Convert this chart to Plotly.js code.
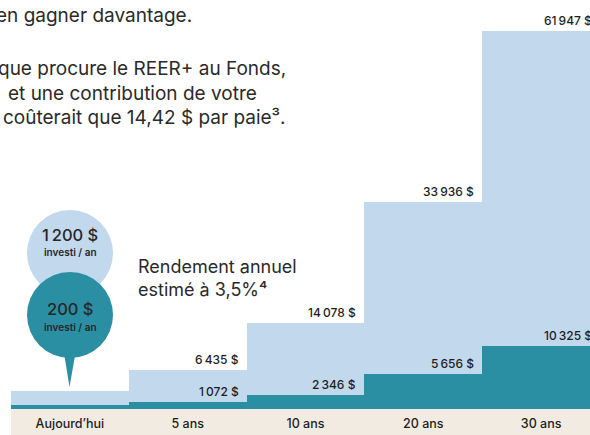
<!DOCTYPE html>
<html>
<head>
<meta charset="utf-8">
<script src="https://cdn.plot.ly/plotly-3.0.1.min.js"></script>
<style>
html,body{margin:0;padding:0;overflow:hidden;background:#fff;width:590px;height:435px;}
#chart{width:600px;height:435px;}
</style>
</head>
<body>
<div id="chart"></div>
<script>
// ---- data ----
const categories = ["Aujourd\u2019hui", "5 ans", "10 ans", "20 ans", "30 ans"];
const totalValues = [2950, 6435, 14078, 33936, 61947];
const contribValues = [680, 1072, 2346, 5656, 10325];
const totalLabels = ["", "6\u2009435 $", "14\u2009078 $", "33\u2009936 $", "61\u2009947 $"];
const contribLabels = ["", "1\u2009072 $", "2\u2009346 $", "5\u2009656 $", "10\u2009325 $"];

// ---- style ----
const LIGHT = "#c2d8ed";
const TEAL = "#2b8fa3";
const BEIGE = "#f2ebe2";
const INK = "#1e1e1e";
const FONT = "Inter, 'Noto Sans', sans-serif";

const W = 600, H = 435;
const M = {l: 11, r: 0, t: 0, b: 26};
const PW = W - M.l - M.r, PH = H - M.t - M.b;
const px = p => (p - M.l) / PW;       // page x pixel -> paper
const py = p => (H - M.b - p) / PH;   // page y pixel -> paper

const traces = [
  {type: "bar", x: categories, y: totalValues, width: 1,
   marker: {color: LIGHT, line: {width: 0}}, hoverinfo: "skip"},
  {type: "bar", x: categories, y: contribValues, width: 1,
   marker: {color: TEAL, line: {width: 0}}, hoverinfo: "skip"}
];

const annotations = [];
function barLabels(values, labels) {
  values.forEach((v, i) => {
    if (!labels[i]) return;
    annotations.push({
      x: i + 0.5, y: v, xref: "x", yref: "y",
      xanchor: "right", yanchor: "bottom", xshift: -6, yshift: 1,
      text: labels[i], showarrow: false,
      font: {family: FONT, size: 12, color: INK, weight: 500}
    });
  });
}
barLabels(totalValues, totalLabels);
barLabels(contribValues, contribLabels);

function pageText(x, y, text, size, anchor) {
  annotations.push({
    xref: "paper", yref: "paper", x: px(x), y: py(y),
    xanchor: anchor, yanchor: "middle", showarrow: false, align: anchor,
    text: text, font: {family: FONT, size: size, color: "#2a2a2a"}
  });
}
pageText(194, 16, "en gagner davantage.", 19, "right");
pageText(288, 69, "que procure le REER+ au Fonds,", 19, "right");
pageText(259, 93, "et une contribution de votre", 19, "right");
pageText(288, 117, "coûterait que 14,42 $ par paie\u00b3.", 19, "right");
pageText(136, 278, "Rendement annuel<br>estimé à 3,5%\u2074", 18, "left");

function centerText(x, y, text, size, weight) {
  annotations.push({
    xref: "paper", yref: "paper", x: px(x), y: py(y),
    xanchor: "center", yanchor: "middle", showarrow: false,
    text: text, font: {family: FONT, size: size, color: "#262626", weight: weight}
  });
}
centerText(70, 235, "1\u2009200 $", 16.5, 500);
centerText(70, 252, "investi / an", 10, 600);
centerText(70, 309, "200 $", 16.5, 500);
centerText(70, 327, "investi / an", 10, 600);

const shapes = [
  {type: "rect", xref: "paper", yref: "paper", x0: 0, x1: 1, y0: py(435), y1: 0,
   fillcolor: BEIGE, line: {width: 0}, layer: "below"},
  {type: "circle", xref: "paper", yref: "paper",
   x0: px(27), x1: px(113), y0: py(296), y1: py(210),
   fillcolor: LIGHT, line: {width: 0}, layer: "above"},
  {type: "path", xref: "paper", yref: "paper",
   path: `M ${px(63.5)} ${py(350)} L ${px(76)} ${py(350)} L ${px(69.5)} ${py(387)} Z`,
   fillcolor: TEAL, line: {width: 0}, layer: "above"},
  {type: "circle", xref: "paper", yref: "paper",
   x0: px(27), x1: px(113), y0: py(358), y1: py(272),
   fillcolor: TEAL, line: {width: 0}, layer: "above"}
];

const layout = {
  width: W, height: H,
  margin: M,
  paper_bgcolor: "#fff", plot_bgcolor: "rgba(0,0,0,0)",
  barmode: "overlay", bargap: 0, showlegend: false,
  xaxis: {type: "category", range: [-0.5, 4.5], fixedrange: true,
    showgrid: false, zeroline: false, showline: false, ticks: "",
    ticklabelstandoff: 5,
    tickfont: {family: FONT, size: 12.5, color: INK, weight: 500}},
  yaxis: {range: [0, 67030], visible: false, fixedrange: true},
  shapes: shapes,
  annotations: annotations
};

Plotly.newPlot("chart", traces, layout, {displayModeBar: false, staticPlot: true});
</script>
</body>
</html>
